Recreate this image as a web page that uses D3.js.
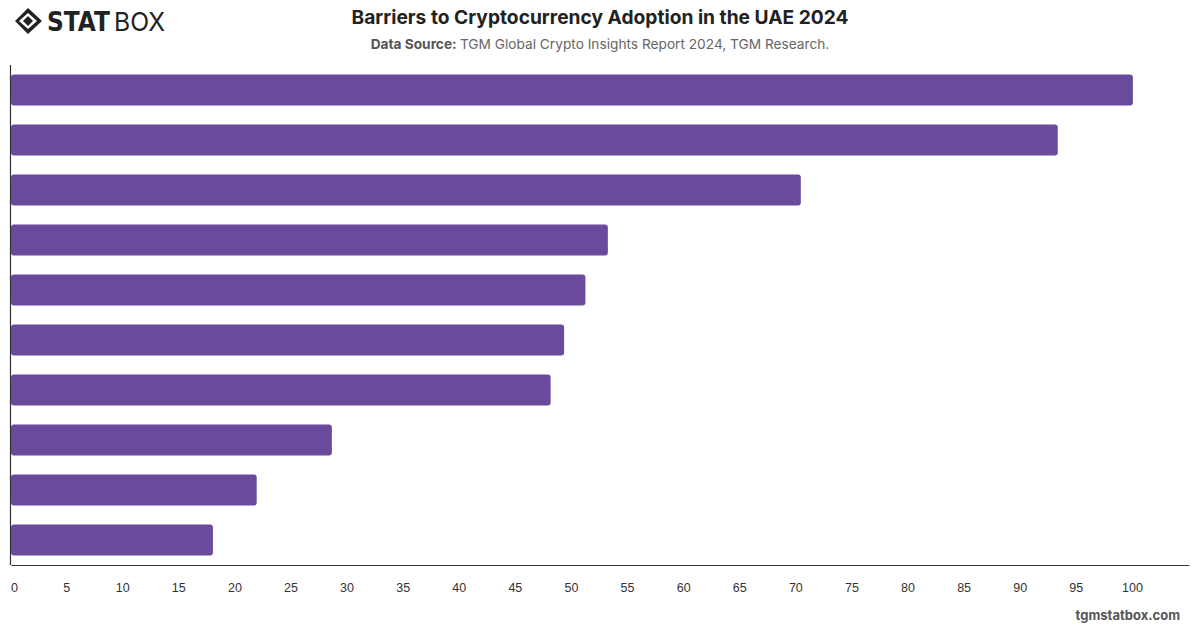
<!DOCTYPE html>
<html>
<head>
<meta charset="utf-8">
<script src="https://cdn.jsdelivr.net/npm/d3@7"></script>
<style>
    body { margin: 0; background: #fff; }
    svg { font-family: "Inter", "Roboto", "Liberation Sans", sans-serif; }
</style>
</head>
<body>
<div id="chart"></div>
<script>
/*
----------------------------------------------------
    Data (the reference shows no category labels)
----------------------------------------------------
*/
const categories = ["Barrier 1", "Barrier 2", "Barrier 3", "Barrier 4", "Barrier 5",
    "Barrier 6", "Barrier 7", "Barrier 8", "Barrier 9", "Barrier 10"];
const values = [100, 93.3, 70.4, 53.2, 51.2, 49.3, 48.1, 28.6, 21.9, 18.0];
const xTicks = [0, 5, 10, 15, 20, 25, 30, 35, 40, 45, 50, 55, 60, 65, 70, 75, 80, 85, 90, 95, 100];

const width = 1200, height = 628;
const margin = { top: 65, right: 11, bottom: 63, left: 11 };
const barColor = "#694a9b";

var svg = d3.select("#chart")
    .append("svg")
    .attr("width", width)
    .attr("height", height);

// Scales
var x = d3.scaleLinear()
    .domain([0, 105])
    .range([margin.left, width - margin.right]);

var y = d3.scaleBand()
    .domain(categories)
    .range([margin.top, height - margin.bottom])
    .paddingInner(0.38)
    .paddingOuter(0.19);

// Bars
svg.selectAll("rect.bar")
    .data(values)
    .enter()
    .append("rect")
    .attr("class", "bar")
    .attr("x", x(0))
    .attr("y", (d, i) => y(categories[i]))
    .attr("width", d => x(d) - x(0))
    .attr("height", y.bandwidth())
    .attr("rx", 3)
    .attr("fill", barColor);

// X axis: line + labels, no tick marks
var xAxis = svg.append("g")
    .attr("transform", "translate(0," + (height - margin.bottom) + ")")
    .call(d3.axisBottom(x).tickValues(xTicks).tickSize(0).tickPadding(18));
xAxis.select(".domain").attr("stroke", "#333").attr("stroke-width", 1.2);
xAxis.selectAll("text")
    .attr("fill", "#333")
    .style("font-size", "12.5px")
    .attr("dx", d => d === 0 ? 3 : -1);

// Y axis: just the line
svg.append("line")
    .attr("x1", x(0) - 0.5).attr("x2", x(0) - 0.5)
    .attr("y1", margin.top).attr("y2", height - margin.bottom)
    .attr("stroke", "#333")
    .attr("stroke-width", 1.2);

// Title
svg.append("text")
    .attr("x", 600)
    .attr("y", 24)
    .attr("text-anchor", "middle")
    .style("font-size", "19.2px")
    .style("font-weight", "700")
    .attr("fill", "#222")
    .text("Barriers to Cryptocurrency Adoption in the UAE 2024");

// Subtitle
var sub = svg.append("text")
    .attr("x", 600)
    .attr("y", 49)
    .attr("text-anchor", "middle")
    .style("font-size", "13.7px")
    .attr("fill", "#666");
sub.append("tspan").style("font-weight", "700").attr("fill", "#555").text("Data Source: ");
sub.append("tspan").text("TGM Global Crypto Insights Report 2024, TGM Research.");

// Footer
svg.append("text")
    .attr("x", 1180)
    .attr("y", 620)
    .attr("text-anchor", "end")
    .style("font-size", "13px")
    .style("font-weight", "700")
    .attr("fill", "#555")
    .text("tgmstatbox.com");

// Logo
var logo = svg.append("g").attr("transform", "translate(15,8)");
logo.append("path")
    .attr("d", "M13,0 L27,13 L13,26 L0,13 Z M13,5 L22,13 L13,21 L4,13 Z")
    .attr("fill", "#222")
    .attr("fill-rule", "evenodd");
logo.append("path")
    .attr("d", "M13,8 L18,13 L13,18 L8,13 Z")
    .attr("fill", "#222");
logo.append("text")
    .attr("x", 32)
    .attr("y", 23)
    .style("font-size", "26px")
    .style("font-weight", "900")
    .style("font-family", "'DejaVu Sans', sans-serif")
    .attr("fill", "#222")
    .attr("textLength", 63)
    .attr("lengthAdjust", "spacingAndGlyphs")
    .text("STAT");
logo.append("text")
    .attr("x", 99)
    .attr("y", 23)
    .style("font-size", "26px")
    .style("font-weight", "400")
    .attr("fill", "#222")
    .attr("textLength", 51)
    .attr("lengthAdjust", "spacingAndGlyphs")
    .text("BOX");
</script>
</body>
</html>
